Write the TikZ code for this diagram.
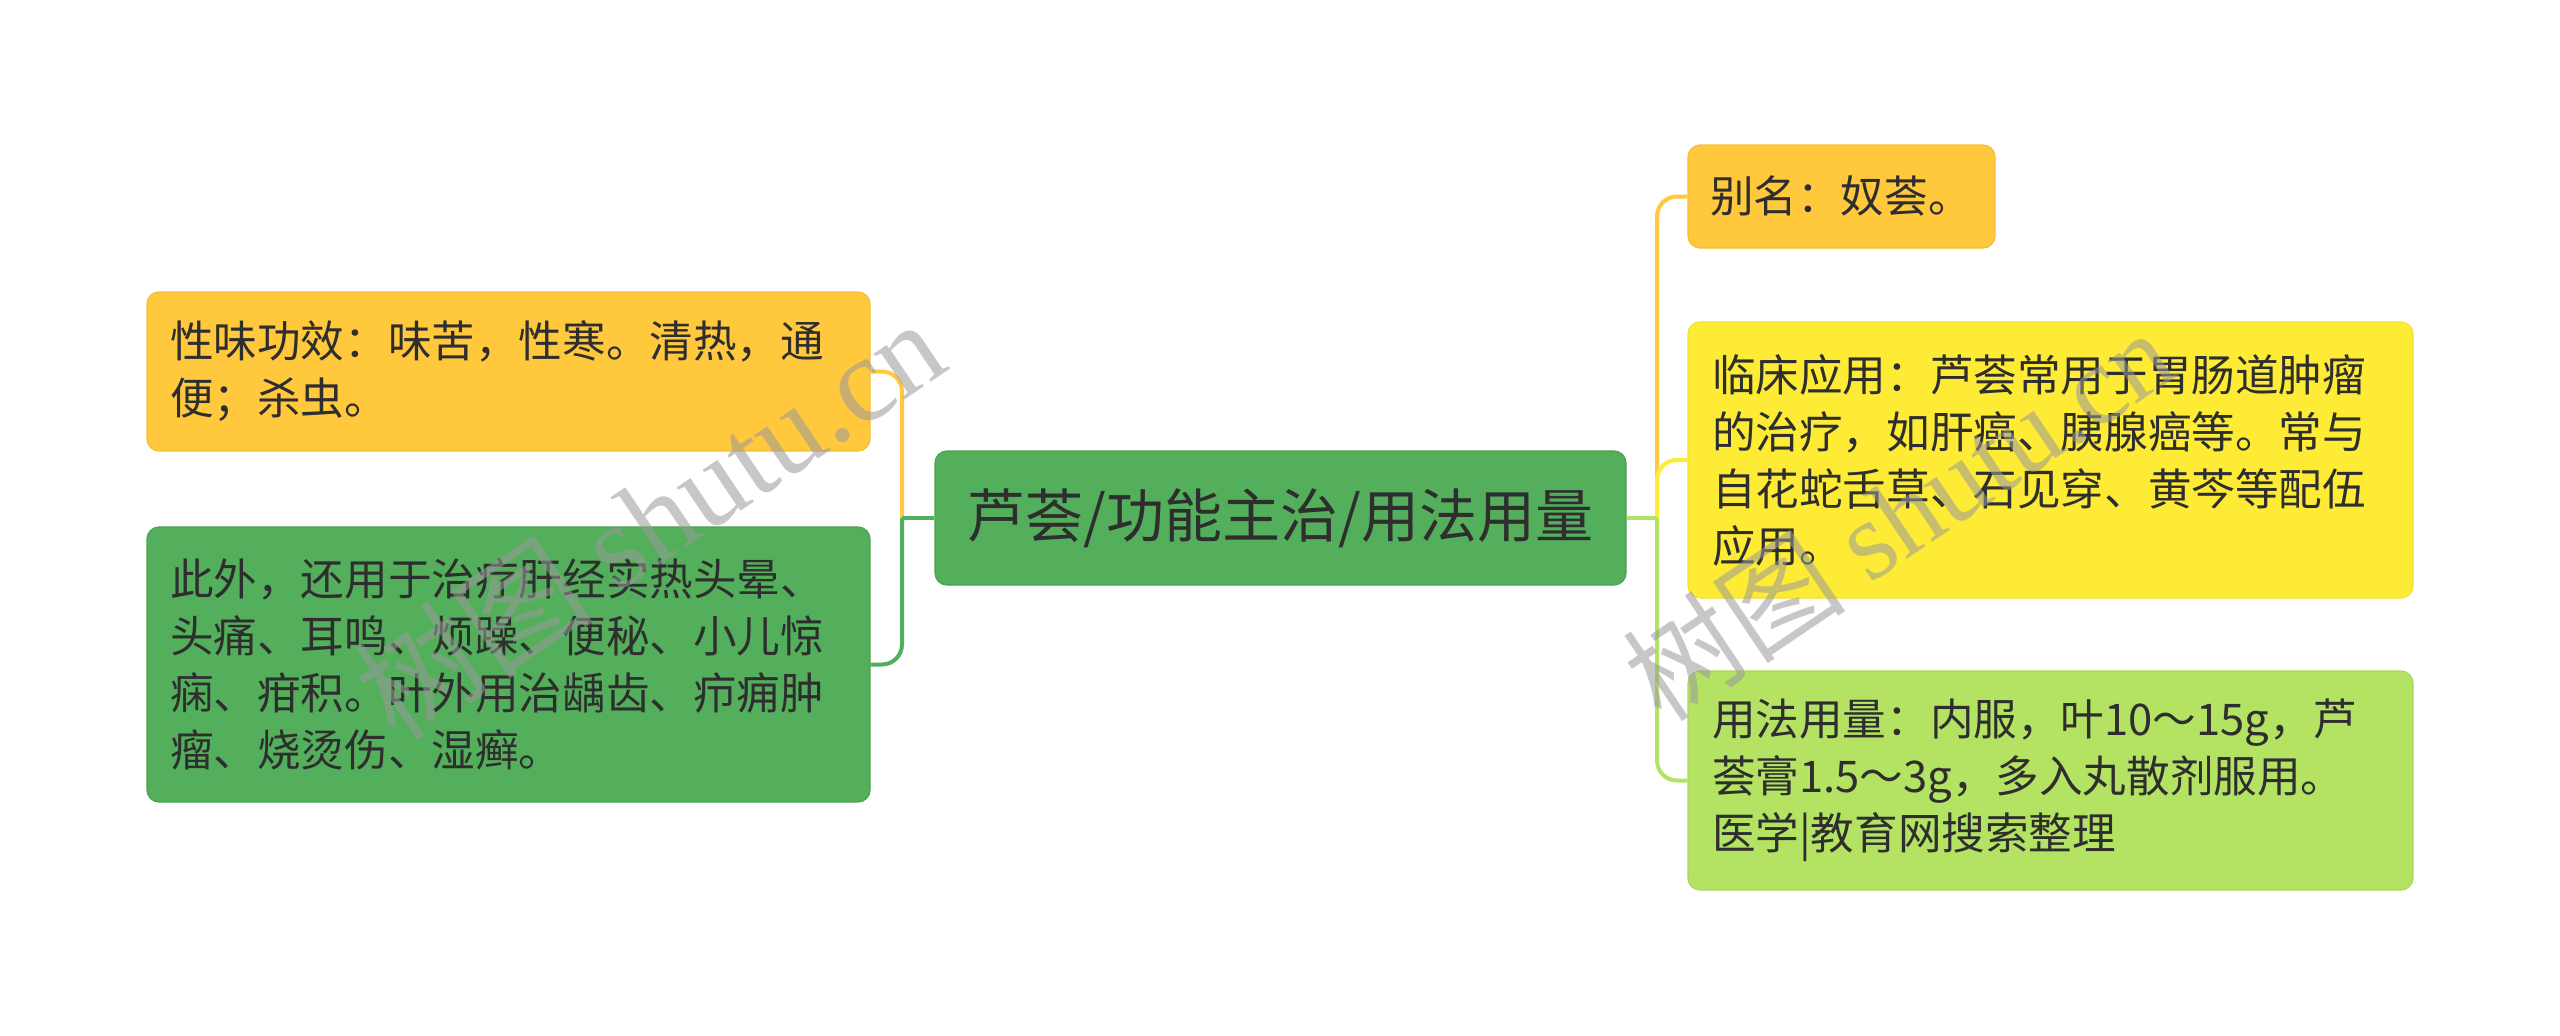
\documentclass[tikz,border=0pt]{standalone}
\usepackage{fontspec}
\setmainfont{Noto Sans CJK SC}
\newfontfamily\cjkfont{Noto Sans CJK SC}
\newfontfamily\wmserif{Liberation Serif}
\definecolor{cOrange}{HTML}{FFC83D}
\definecolor{cOrangeD}{HTML}{F5BE35}
\definecolor{cYellow}{HTML}{FDEB35}
\definecolor{cYellowD}{HTML}{F3E12E}
\definecolor{cLGreen}{HTML}{B4E363}
\definecolor{cLGreenD}{HTML}{A9D85A}
\definecolor{cGreen}{HTML}{53AF5B}
\definecolor{cGreenD}{HTML}{47A34F}
\definecolor{txt}{HTML}{2E2E2E}
\definecolor{wm}{HTML}{9A9A9A}
\begin{document}
\begin{tikzpicture}[x=1pt,y=-1pt,
  box/.style={rounded corners=12pt, inner sep=0pt, align=left, text=txt,
    line width=1.2pt, font=\fontsize{43.6}{57}\selectfont},
  conn/.style={line width=4pt},
  rc/.style={rounded corners=20pt},
  wmark/.style={rotate=34, text=wm, opacity=0.55, inner sep=0pt}]
\useasboundingbox (0,0) rectangle (2560,1036);
\fill[white] (0,0) rectangle (2560,1036);

% junction points
\coordinate (jl) at (902,518);
\coordinate (jr) at (1657,518);

% nodes
\node[box, fill=cGreen, draw=cGreenD, minimum width=691pt, minimum height=134pt,
  align=center, font=\fontsize{58}{70}\selectfont] (center) at (1280.5,518) {芦荟/功能主治/用法用量};

\node[box, fill=cOrange, draw=cOrangeD, minimum width=723pt, minimum height=159pt,
  text width=677pt] (n1) at (508.5,371.5)
  {性味功效：味苦，性寒。清热，通\\便；杀虫。};
\node[box, fill=cGreen, draw=cGreenD, minimum width=723pt, minimum height=275pt,
  text width=677pt] (n2) at (508.5,664.5)
  {此外，还用于治疗肝经实热头晕、\\头痛、耳鸣、烦躁、便秘、小儿惊\\痫、疳积。叶外用治龋齿、疖痈肿\\瘤、烧烫伤、湿癣。};

\node[box, fill=cOrange, draw=cOrangeD, minimum width=307pt, minimum height=103pt,
  text width=263pt] (r1) at (1841.5,196.5) {别名：奴荟。};
\node[box, fill=cYellow, draw=cYellowD, minimum width=725pt, minimum height=276pt,
  text width=677pt] (r2) at (2050.5,460)
  {临床应用：芦荟常用于胃肠道肿瘤\\的治疗，如肝癌、胰腺癌等。常与\\自花蛇舌草、石见穿、黄芩等配伍\\应用。};
\node[box, fill=cLGreen, draw=cLGreenD, minimum width=725pt, minimum height=219pt,
  text width=677pt] (r3) at (2050.5,780.5)
  {用法用量：内服，叶10～15g，芦\\荟膏1.5～3g，多入丸散剂服用。\\医学|教育网搜索整理};

% connectors (behind nodes)
\begin{scope}[on background layer/.style={}]
\end{scope}
\begin{pgfinterruptboundingbox}\end{pgfinterruptboundingbox}

\draw[conn, cOrange, rc] (jl) |- (n1.east);
\draw[conn, cGreen] (center.west) -- (jl);
\draw[conn, cGreen, rc] (jl) |- (n2.east);

\draw[conn, cOrange, rc] (jr) |- (r1.west);
\draw[conn, cYellow, rc] (jr) |- (r2.west);
\draw[conn, cLGreen] (center.east) -- (jr);
\draw[conn, cLGreen, rc] (jr) |- (r3.west);

% watermarks
\node[wmark, font=\fontsize{120}{120}\selectfont] (wm1) at (649,518)
  {{\cjkfont 树图} {\wmserif shutu.cn}};
\node[wmark, font=\fontsize{112}{112}\selectfont] (wm2) at (1898,514)
  {{\cjkfont 树图} {\wmserif shutu.cn}};
\end{tikzpicture}
\end{document}
